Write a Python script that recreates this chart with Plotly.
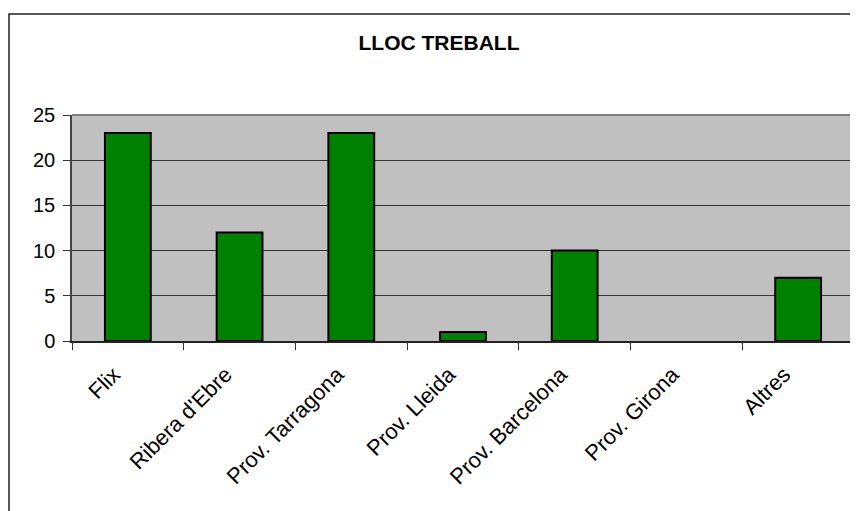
import plotly.graph_objects as go

# Data
categories = ["Flix", "Ribera d'Ebre", "Prov. Tarragona", "Prov. Lleida",
              "Prov. Barcelona", "Prov. Girona", "Altres"]
values = [23, 12, 23, 1, 10, 0, 7]
y_ticks = [0, 5, 10, 15, 20, 25]

W, H = 850, 503          # page has an 8px body margin
L, R, T, B = 64, 4, 107, 170
pw, ph = W - L - R, H - T - B

fig = go.Figure()

fig.add_trace(go.Bar(
    x=categories,
    y=values,
    marker=dict(color="#008000",
                line=dict(color="black", width=[2 if v else 0 for v in values])),
    showlegend=False
))

fig.update_layout(
    width=W,
    height=H,
    margin=dict(l=L, r=R, t=T, b=B, autoexpand=False),
    paper_bgcolor="white",
    plot_bgcolor="#C0C0C0",
    font=dict(family="Liberation Sans, Arial, sans-serif", color="black", size=20),
    title=dict(
        text="<b>LLOC TREBALL</b>",
        font=dict(size=21, color="black"),
        x=431 / W, xanchor="center",
        y=1 - 35 / H, yanchor="middle", yref="container"
    ),
    bargap=0.59,
    xaxis=dict(
        type="category",
        tickangle=-45,
        tickson="boundaries",
        ticks="outside",
        ticklen=7,
        tickcolor="#333333",
        tickfont=dict(size=22),
        ticklabelshift=-14,
        ticklabelstandoff=10,
        showgrid=False,
        showline=True,
        linecolor="#222222",
        linewidth=2,
    ),
    yaxis=dict(
        range=[0, 25],
        tickvals=y_ticks,
        ticks="outside",
        ticklen=7,
        tickcolor="#333333",
        ticklabelstandoff=4,
        showgrid=True,
        gridcolor="#333333",
        gridwidth=1,
        zeroline=False,
        showline=True,
        linecolor="#444444",
        linewidth=1.5,
    ),
)

# plot area border (top and right, grey)
fig.add_shape(type="line", xref="paper", yref="paper", x0=0, x1=1, y0=1, y1=1,
              line=dict(color="#808080", width=2), layer="above")
fig.add_shape(type="line", xref="paper", yref="paper", x0=1, x1=1, y0=0, y1=1,
              line=dict(color="#808080", width=2), layer="above")

# outer chart frame
fig.add_shape(type="rect", xref="paper", yref="paper",
              x0=(1 - L) / pw, x1=1.2, y0=-0.9, y1=1 + (T - 6) / ph,
              line=dict(color="#222222", width=1.5), layer="above")

fig.write_html("out.html")
